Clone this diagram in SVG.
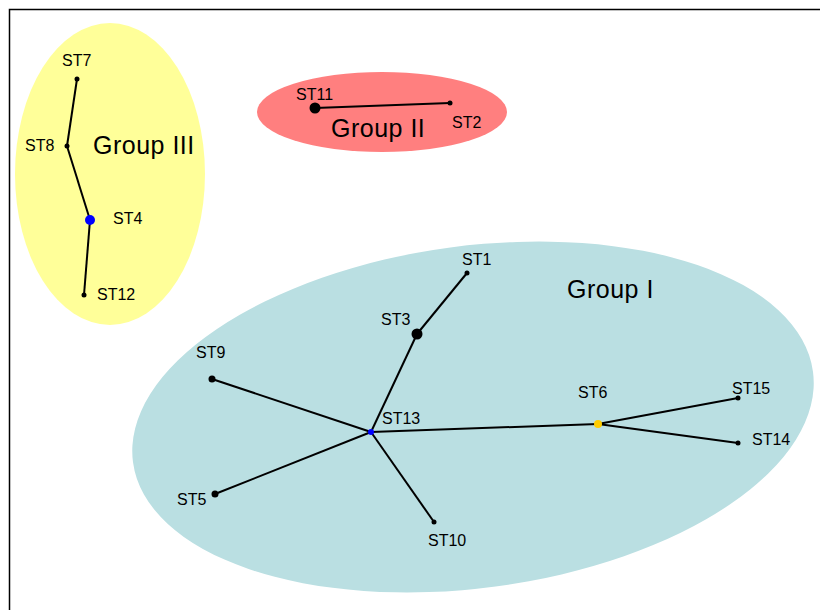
<svg xmlns="http://www.w3.org/2000/svg" width="820" height="610" viewBox="0 0 820 610">
<style>
.lbl{font-family:"Liberation Sans",Arial,sans-serif;font-size:16px;fill:#000}
.grp{font-family:"Liberation Sans",Arial,sans-serif;font-size:25px;fill:#000;letter-spacing:0.5px}
.edge{stroke:#000;stroke-width:2;fill:none}
.dot{fill:#000}
</style>
<rect width="820" height="610" fill="#fff"/>
<path d="M9.5,610 V9.5 H820" fill="none" stroke="#000" stroke-width="1.5"/>
<g id="groupIII">
<ellipse cx="110" cy="174" rx="95" ry="151" fill="#FFFF99"/>
<text class="grp" x="93" y="154">Group III</text>
</g>
<g id="groupII">
<ellipse cx="382" cy="112" rx="125" ry="40" fill="#FF7F7F"/>
<text class="grp" x="331" y="137">Group II</text>
</g>
<g id="groupI">
<ellipse cx="473" cy="417" rx="343" ry="171" fill="#BADFE2" transform="rotate(-7.6 473 417)"/>
<text class="grp" x="567" y="298">Group I</text>
</g>
<g id="connectors">
<line class="edge" x1="77" y1="79" x2="67" y2="146"/>
<line class="edge" x1="67" y1="146" x2="90" y2="220"/>
<line class="edge" x1="90" y1="220" x2="84" y2="295"/>
<line class="edge" x1="315" y1="108" x2="450" y2="103"/>
<line class="edge" x1="467" y1="273" x2="417" y2="334"/>
<line class="edge" x1="417" y1="334" x2="371" y2="432"/>
<line class="edge" x1="371" y1="432" x2="212" y2="379"/>
<line class="edge" x1="371" y1="432" x2="215" y2="494"/>
<line class="edge" x1="371" y1="432" x2="434" y2="522"/>
<line class="edge" x1="371" y1="432" x2="598" y2="424"/>
<line class="edge" x1="598" y1="424" x2="738" y2="398"/>
<line class="edge" x1="598" y1="424" x2="738" y2="443"/>
</g>
<g id="ST7"><circle class="dot" cx="77" cy="79" r="2.5"/><text class="lbl" x="62" y="66">ST7</text></g>
<g id="ST8"><circle class="dot" cx="67" cy="146" r="2.5"/><text class="lbl" x="25" y="151">ST8</text></g>
<g id="ST4"><circle cx="90" cy="220" r="5" fill="#0000FF"/><text class="lbl" x="113" y="224">ST4</text></g>
<g id="ST12"><circle class="dot" cx="84" cy="295" r="2.5"/><text class="lbl" x="97" y="300">ST12</text></g>
<g id="ST11"><circle class="dot" cx="315" cy="108" r="5.5"/><text class="lbl" x="296" y="100">ST11</text></g>
<g id="ST2"><circle class="dot" cx="450" cy="103" r="2.5"/><text class="lbl" x="452" y="128">ST2</text></g>
<g id="ST1"><circle class="dot" cx="467" cy="273" r="2.5"/><text class="lbl" x="462" y="265">ST1</text></g>
<g id="ST3"><circle class="dot" cx="417" cy="334" r="5.5"/><text class="lbl" x="381" y="325">ST3</text></g>
<g id="ST13"><circle cx="371" cy="432" r="3" fill="#0000FF"/><text class="lbl" x="382" y="424">ST13</text></g>
<g id="ST9"><circle class="dot" cx="212" cy="379" r="3.5"/><text class="lbl" x="196" y="358">ST9</text></g>
<g id="ST5"><circle class="dot" cx="215" cy="494" r="3.5"/><text class="lbl" x="177" y="505">ST5</text></g>
<g id="ST10"><circle class="dot" cx="434" cy="522" r="2.5"/><text class="lbl" x="428" y="546">ST10</text></g>
<g id="ST6"><circle cx="598" cy="424" r="4" fill="#FFCC00"/><text class="lbl" x="578" y="398">ST6</text></g>
<g id="ST15"><circle class="dot" cx="738" cy="398" r="2.5"/><text class="lbl" x="732" y="394">ST15</text></g>
<g id="ST14"><circle class="dot" cx="738" cy="443" r="2.5"/><text class="lbl" x="752" y="445">ST14</text></g>
</svg>
